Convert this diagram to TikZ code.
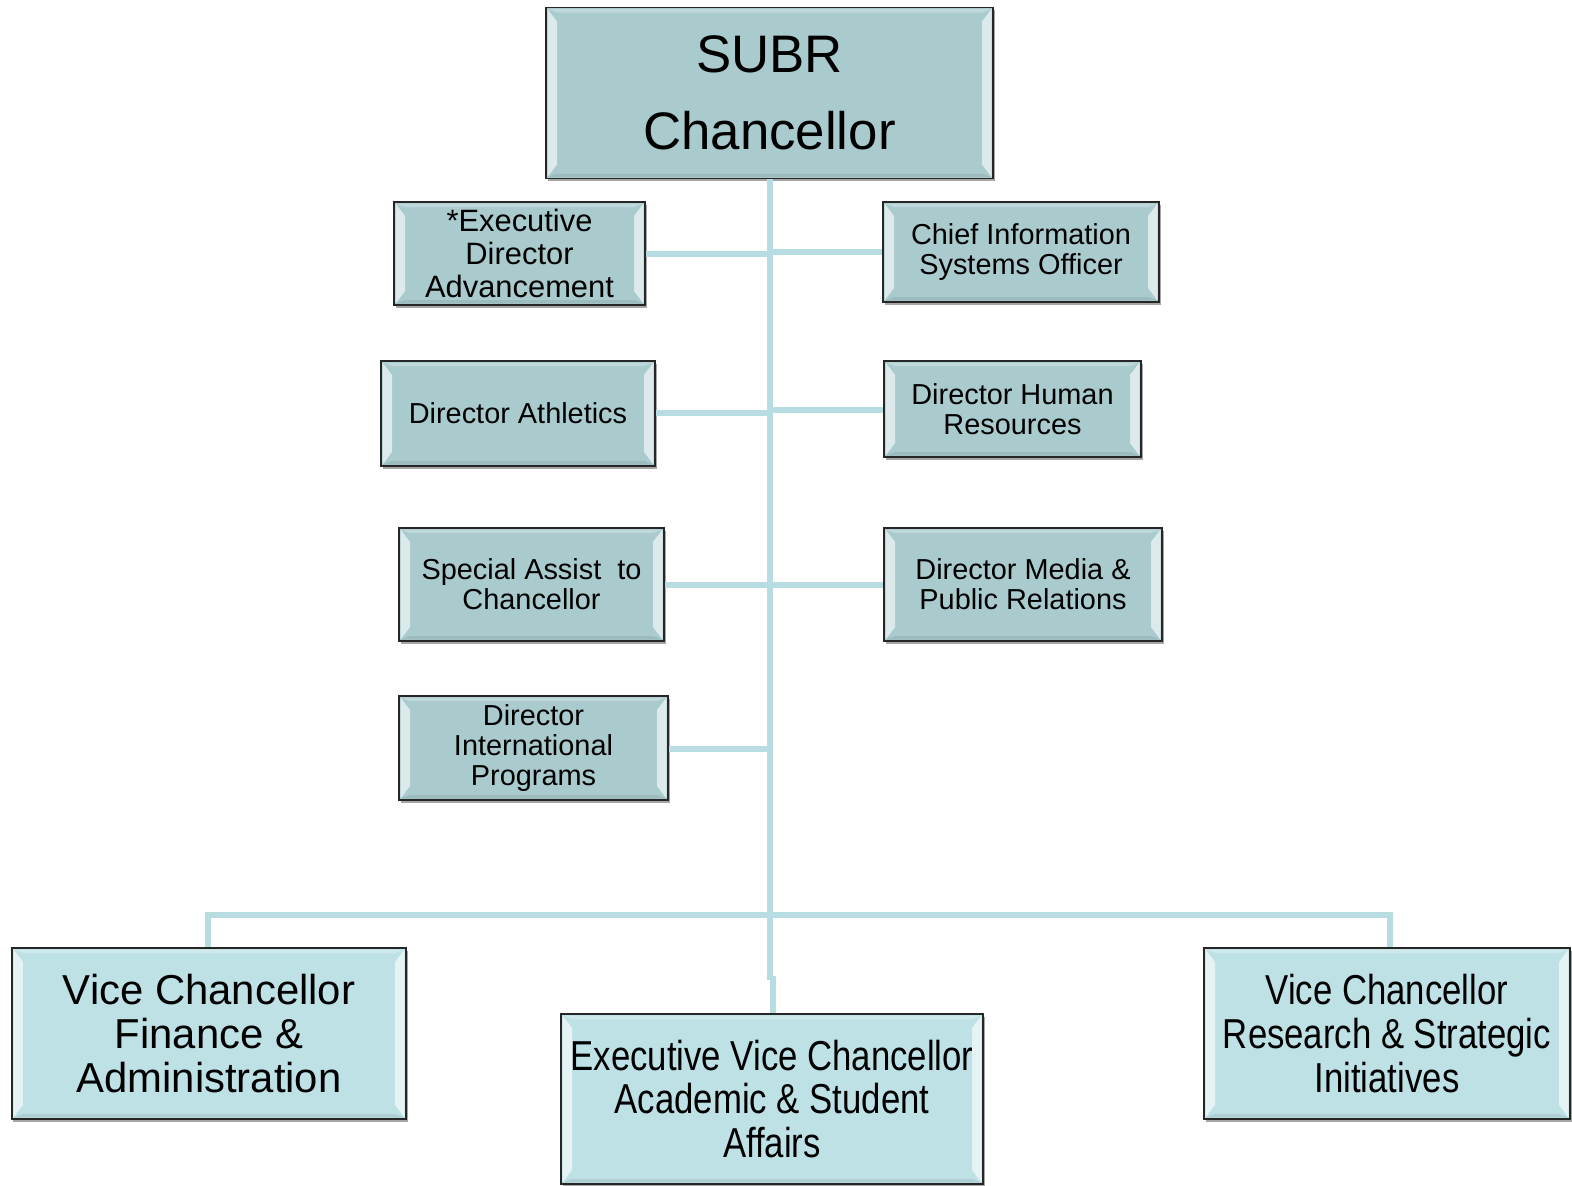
\documentclass[tikz,border=0pt]{standalone}
\usepackage{fontspec}
\setmainfont{Liberation Sans}
\newfontfamily\narrowfont[FakeStretch=0.83]{Liberation Sans}
\usetikzlibrary{shadows}
\definecolor{topfill}{RGB}{170,203,206}
\definecolor{botfill}{RGB}{190,225,230}
\definecolor{linkc}{RGB}{183,221,227}
\tikzset{
  bevel/.style={
    path picture={
      \fill[white,opacity=0.6]
        ([shift={(1.5bp,-1.5bp)}]path picture bounding box.north west) --
        ([shift={(11bp,-14bp)}]path picture bounding box.north west) --
        ([shift={(11bp,14bp)}]path picture bounding box.south west) --
        ([shift={(1.5bp,1.5bp)}]path picture bounding box.south west) -- cycle;
      \fill[white,opacity=0.6]
        ([shift={(-1.5bp,-1.5bp)}]path picture bounding box.north east) --
        ([shift={(-11bp,-14bp)}]path picture bounding box.north east) --
        ([shift={(-11bp,14bp)}]path picture bounding box.south east) --
        ([shift={(-1.5bp,1.5bp)}]path picture bounding box.south east) -- cycle;
      \fill[white,opacity=0.25]
        ([shift={(1.5bp,-1.5bp)}]path picture bounding box.north west) --
        ([shift={(-1.5bp,-1.5bp)}]path picture bounding box.north east) --
        ([shift={(-11bp,-5bp)}]path picture bounding box.north east) --
        ([shift={(11bp,-5bp)}]path picture bounding box.north west) -- cycle;
      \fill[black,opacity=0.08]
        ([shift={(1.5bp,1.5bp)}]path picture bounding box.south west) --
        ([shift={(-1.5bp,1.5bp)}]path picture bounding box.south east) --
        ([shift={(-11bp,5bp)}]path picture bounding box.south east) --
        ([shift={(11bp,5bp)}]path picture bounding box.south west) -- cycle;
    }},
  orgbox/.style={draw=black!85, line width=1.6bp, inner sep=0pt, align=center,
    drop shadow={shadow xshift=1.5bp, shadow yshift=-2.5bp, opacity=0.35, fill=black},
    bevel},
  topbox/.style={orgbox, fill=topfill},
  botbox/.style={orgbox, fill=botfill},
  small/.style={font=\fontsize{29}{30}\selectfont},
  link/.style={draw=linkc, line width=5.5bp},
}
\begin{document}
\begin{tikzpicture}[x=1bp,y=-1bp]
\useasboundingbox[fill=white] (0,0) rectangle (1572,1185);

\coordinate (tr1) at (770,254);
\coordinate (tr1r) at (770,252);
\coordinate (tr2) at (770,413);
\coordinate (tr2r) at (770,410);
\coordinate (tr3) at (770,585);
\coordinate (tr4) at (770,749);
\coordinate (busL) at (208,915);
\coordinate (busR) at (1390,915);
\coordinate (jog1) at (770,980);
\coordinate (jog2) at (773,976);

\node[topbox, font=\fontsize{53}{77}\selectfont, minimum width=447bp, minimum height=171bp] (subr) at (769.5,93)
  {SUBR\\Chancellor};
\node[topbox, font=\fontsize{31}{33}\selectfont, minimum width=251bp, minimum height=103bp] (exec) at (519.5,253.5)
  {*Executive\\Director\\Advancement};
\node[topbox, small, minimum width=276bp, minimum height=100bp] (cio) at (1021,252)
  {Chief Information\\Systems Officer};
\node[topbox, small, minimum width=274bp, minimum height=105bp] (ath) at (518,413.5)
  {Director Athletics};
\node[topbox, small, minimum width=257bp, minimum height=96bp] (hr) at (1012.5,409)
  {Director Human\\Resources};
\node[topbox, small, minimum width=265bp, minimum height=113bp] (spec) at (531.5,584.5)
  {Special Assist\ \ to\\Chancellor};
\node[topbox, small, minimum width=278bp, minimum height=113bp] (media) at (1023,584.5)
  {Director Media \&\\Public Relations};
\node[topbox, small, minimum width=269bp, minimum height=104bp] (intl) at (533.5,748)
  {Director\\International\\Programs};

\node[botbox, font=\fontsize{42}{44}\selectfont, minimum width=394bp, minimum height=171bp] (vcf) at (209,1033.5)
  {Vice Chancellor\\Finance \&\\Administration};
\node[botbox, font=\narrowfont\fontsize{42}{44}\selectfont, minimum width=422bp, minimum height=170bp] (evc) at (772,1099)
  {Executive Vice Chancellor\\Academic \& Student\\Affairs};
\node[botbox, font=\narrowfont\fontsize{42}{44}\selectfont, minimum width=366bp, minimum height=171bp] (vcr) at (1387,1033.5)
  {Vice Chancellor\\Research \& Strategic\\Initiatives};

\path[link] (subr.south -| jog1) -- (jog1);
\path[link] (jog2) -- (evc.north -| jog2);
\path[link] (exec.east |- tr1) -- (tr1);
\path[link] (tr1r) -- (cio.west |- tr1r);
\path[link] (ath.east |- tr2) -- (tr2);
\path[link] (tr2r) -- (hr.west |- tr2r);
\path[link] (spec.east |- tr3) -- (media.west |- tr3);
\path[link] (intl.east |- tr4) -- (tr4);
\path[link] (vcf.north -| busL) -- (busL) -- (busR) -- (vcr.north -| busR);
\end{tikzpicture}
\end{document}
